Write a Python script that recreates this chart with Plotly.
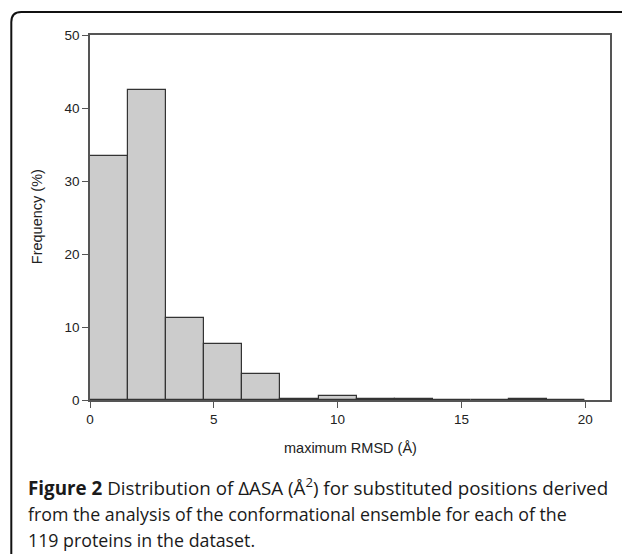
import plotly.graph_objects as go

# Histogram data (percent of positions per bin of maximum RMSD)
bin_lefts = [0.0, 1.538, 3.077, 4.615, 6.154, 7.692, 9.231, 10.769, 12.308, 13.846, 15.385, 16.923, 18.462]
bin_width = 1.538
frequency = [33.4, 42.5, 11.3, 7.7, 3.5, 0.2, 0.6, 0.2, 0.15, 0.0, 0.0, 0.2, 0.0]

x_ticks = [0, 5, 10, 15, 20]
y_ticks = [0, 10, 20, 30, 40, 50]

W, H = 622, 554
L, R, T, B = 90, 612, 35, 400

fig = go.Figure()
fig.add_trace(go.Bar(
    x=[b + bin_width / 2 for b in bin_lefts],
    y=frequency,
    width=[bin_width] * len(bin_lefts),
    marker=dict(color="#cccccc", line=dict(color="#333333", width=1.2)),
    hoverinfo="x+y",
))

axis_common = dict(
    showline=True, linecolor="#555555", linewidth=1.5, mirror=True,
    ticks="outside", ticklen=6, tickcolor="#555555", tickwidth=1.2,
    showgrid=False, zeroline=False,
    tickfont=dict(family="Liberation Sans, Arial", size=13.5, color="#222222"),
)

fig.update_layout(
    width=W, height=H,
    margin=dict(l=L, r=W - R, t=T, b=H - B, pad=0),
    paper_bgcolor="white", plot_bgcolor="white",
    showlegend=False, bargap=0,
    xaxis=dict(range=[0, 21.0], tickvals=x_ticks, **axis_common),
    yaxis=dict(range=[0, 50], tickvals=y_ticks, **axis_common),
)


def px(xp):
    return (xp - L) / (R - L)


def py(yp):
    return (B - yp) / (B - T)


# Axis titles
fig.add_annotation(xref="paper", yref="paper", x=px(351), y=py(448),
                   text="maximum RMSD (Å)", showarrow=False,
                   font=dict(family="Liberation Sans, Arial", size=14.5, color="#222222"),
                   xanchor="center", yanchor="middle")
fig.add_annotation(xref="paper", yref="paper", x=px(37), y=py(217),
                   text="Frequency (%)", showarrow=False, textangle=-90,
                   font=dict(family="Liberation Sans, Arial", size=14.5, color="#222222"),
                   xanchor="center", yanchor="middle")

# Caption
caption_lines = [
    "<b>Figure 2</b> Distribution of ΔASA (Å<sup>2</sup>) for substituted positions derived",
    "from the analysis of the conformational ensemble for each of the",
    "119 proteins in the dataset.",
]
caption_y = [487, 513.5, 540]
caption_size = [18.8, 17.8, 17.8]
for line, yy, fs in zip(caption_lines, caption_y, caption_size):
    fig.add_annotation(xref="paper", yref="paper", x=px(26), y=py(yy),
                       text=line, showarrow=False,
                       font=dict(family="Open Sans", size=fs, color="#1a1a1a"),
                       xanchor="left", yanchor="middle", align="left")

# Rounded frame (top-left corner)
fx, fy, rad = 11, 12, 10
path = (f"M {px(fx)},{py(H + 10)} L {px(fx)},{py(fy + rad)} "
        f"Q {px(fx)},{py(fy)} {px(fx + rad)},{py(fy)} L {px(W + 10)},{py(fy)}")
fig.add_shape(type="path", xref="paper", yref="paper", path=path,
              line=dict(color="#111111", width=2))

fig.write_html("out.html")
